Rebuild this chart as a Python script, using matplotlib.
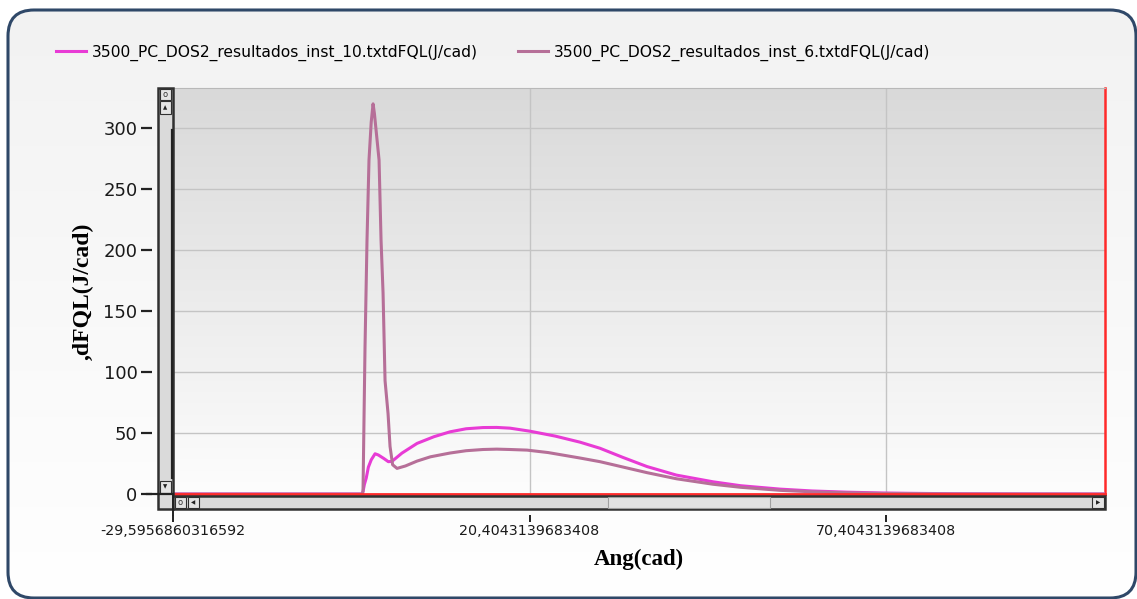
import numpy as np
import matplotlib
matplotlib.use("Agg")
from matplotlib import pyplot as plt
from matplotlib.colors import LinearSegmentedColormap
from matplotlib.patches import FancyBboxPatch, Rectangle

# data
ang_inst10 = [-29.5957, -3.1, -2.95, -2.75, -2.5, -2.2, -1.8, -1.26, -0.8, 0.0, 0.6,
              1.12, 2.5, 4.63, 7.0, 9.25, 11.5, 13.88, 15.8, 17.67, 20.47, 24.0, 27.49,
              30.29, 33.5, 36.88, 41.0, 46.14, 50.0, 55.54, 60.0, 64.93, 70.0,
              80.0, 90.0, 101.1]
dfql_inst10 = [0, 0, 2, 8, 13, 22, 28, 33, 32, 29, 26.5,
               26.8, 33.5, 41.5, 47, 51, 53.5, 54.5, 54.6, 54, 51.5, 47.5, 42.5,
               37.5, 30, 22.5, 15.5, 10, 6.8, 4, 2.5, 1.5, 0.8,
               0.2, 0.05, 0]

ang_inst6 = [-29.5957, -3.1, -2.95, -2.8, -2.67, -2.39, -2.11, -1.8, -1.54, -1.35,
             -0.70, -0.42, -0.14, 0.14, 0.56, 0.84, 1.2, 1.82, 3.0, 4.63, 6.5,
             9.25, 11.5, 13.88, 15.8, 17.67, 20.05, 23.0, 27.49, 30.29, 36.88, 41.0,
             46.14, 50.0, 55.54, 60.0, 64.93, 70.0, 80.0, 90.0, 101.1]
dfql_inst6 = [0, 0, 2, 66, 120, 208, 274, 305, 320, 312,
              274, 208, 165, 93, 66, 39, 24, 21, 23, 27, 30.5,
              33.6, 35.5, 36.5, 36.8, 36.5, 36, 34, 29.5, 26.5, 17.5, 12.5,
              8, 5.5, 3, 1.8, 1, 0.5, 0.15, 0.05, 0]

xticks = [-29.5956860316592, 20.4043139683408, 70.4043139683408]
xtick_labels = ["-29,5956860316592", "20,4043139683408", "70,4043139683408"]
yticks = [0, 50, 100, 150, 200, 250, 300]
legend_labels = ["3500_PC_DOS2_resultados_inst_10.txtdFQL(J/cad)",
                 "3500_PC_DOS2_resultados_inst_6.txtdFQL(J/cad)"]

W, H = 1137, 599
fig = plt.figure(figsize=(W / 100, H / 100), dpi=100)
fig.patch.set_facecolor("white")


def fx(px):
    return px / W


def fy(py):
    return 1 - py / H


# rounded panel with light gradient (under everything)
under = fig.add_axes([0, 0, 1, 1], zorder=-10)
under.set_axis_off()
under.set_xlim(0, W)
under.set_ylim(H, 0)
panel = FancyBboxPatch((8, 10), 1128, 588, boxstyle="round,pad=0,rounding_size=26",
                       facecolor="none", edgecolor="#2f4868", linewidth=2.2, zorder=3)
under.add_patch(panel)
grad = np.linspace(0, 1, 256).reshape(-1, 1)
im = under.imshow(grad, cmap=LinearSegmentedColormap.from_list("p", ["#f2f2f2", "#ffffff"]),
                  extent=(8, 1136, 598, 10), aspect="auto", zorder=1)
im.set_clip_path(panel)

# main plot area
ax = fig.add_axes([fx(173), fy(494), fx(1105 - 173), (494 - 88) / H])
ax.imshow(grad, extent=(0, 1, 0, 1), transform=ax.transAxes, aspect="auto", zorder=0,
          cmap=LinearSegmentedColormap.from_list("g", ["#d9d9d9", "#fdfdfd"]))

l1, = ax.plot(ang_inst10, dfql_inst10, color="#e83bd5", lw=2.2, zorder=3)
l2, = ax.plot(ang_inst6, dfql_inst6, color="#b66f98", lw=2.2, zorder=4)
ax.axhline(0, color="#ff2a2a", lw=2, zorder=5, clip_on=False)

ax.set_xlim(-29.5957, 101.1)
ax.set_ylim(0, 333)
ax.set_xticks(xticks)
ax.set_xticklabels(xtick_labels)
ax.set_yticks(yticks)
ax.grid(True, color="#c4c4c4", lw=1)
ax.set_axisbelow(True)

ax.spines["right"].set_color("#ff2a2a")
ax.spines["right"].set_linewidth(1.8)
ax.spines["top"].set_color("#b8b8b8")
ax.spines["left"].set_position(("outward", 15))
ax.spines["left"].set_visible(False)
ax.spines["bottom"].set_position(("outward", 15))
ax.spines["bottom"].set_visible(False)
ax.tick_params(axis="y", length=8, width=1.6, color="#222222", pad=2.5,
               labelsize=13, labelcolor="#1a1a1a")
ax.tick_params(axis="x", length=5, width=1.4, color="#222222", pad=1.5,
               labelsize=10.3, labelcolor="#1a1a1a")

ax.set_xlabel("Ang(cad)", family="Liberation Serif", weight="bold", fontsize=16.5,
              labelpad=8)
ax.set_ylabel(",dFQL(J/cad)", family="Liberation Serif", weight="bold", fontsize=17,
              labelpad=7)

# scrollbars, drawn in pixel space on top
top = fig.add_axes([0, 0, 1, 1], zorder=5)
top.set_axis_off()
top.set_xlim(0, W)
top.set_ylim(H, 0)


def box(x0, y0, x1, y1, fc, ec="#303030", lw=1.2):
    top.add_patch(Rectangle((x0, y0), x1 - x0, y1 - y0, facecolor=fc, edgecolor=ec,
                            linewidth=lw, zorder=6))


# vertical scrollbar
box(158, 88, 173, 509, "#dadada", lw=1.8)
box(160, 89, 171, 100, "#e4e4e4", lw=0.8)
box(160, 101, 171, 114, "#e4e4e4", lw=0.8)
box(160, 481, 171, 493, "#e4e4e4", lw=0.8)
top.plot([171.5, 171.5], [130, 478], color="#222222", lw=1.6, zorder=7)
top.text(165.5, 94.5, "o", ha="center", va="center", fontsize=6, color="#333333", zorder=8)
top.text(165.5, 108, "\u25b2", ha="center", va="center", fontsize=4, color="#222222", zorder=8)
top.text(165.5, 487, "\u25bc", ha="center", va="center", fontsize=4, color="#222222", zorder=8)
# horizontal scrollbar
box(173, 496, 1105, 509, "#dadada", lw=1.8)
box(608, 497, 770, 508, "#e2e2e2", ec="#a0a0a0", lw=0.8)
box(175, 497, 186, 508, "#e4e4e4", lw=0.8)
box(188, 497, 199, 508, "#e4e4e4", lw=0.8)
box(1092, 497, 1104, 508, "#e4e4e4", lw=0.8)
top.text(180.5, 502.5, "o", ha="center", va="center", fontsize=6, color="#333333", zorder=8)
top.text(193.5, 502.5, "\u25c0", ha="center", va="center", fontsize=4, color="#222222", zorder=8)
top.text(1098, 502.5, "\u25b6", ha="center", va="center", fontsize=4, color="#222222", zorder=8)
top.plot([147, 173], [494, 494], color="#222222", lw=1.6, zorder=7)
top.plot([173, 173], [494, 515], color="#222222", lw=1.4, zorder=7)

fig.legend([l1, l2], legend_labels,
           loc="center left", bbox_to_anchor=(fx(56), fy(53)), ncol=2, frameon=False,
           fontsize=11.2, handlelength=1.9, handletextpad=0.4, columnspacing=2.6,
           borderaxespad=0, borderpad=0)

fig.savefig("out.png", dpi=100)
